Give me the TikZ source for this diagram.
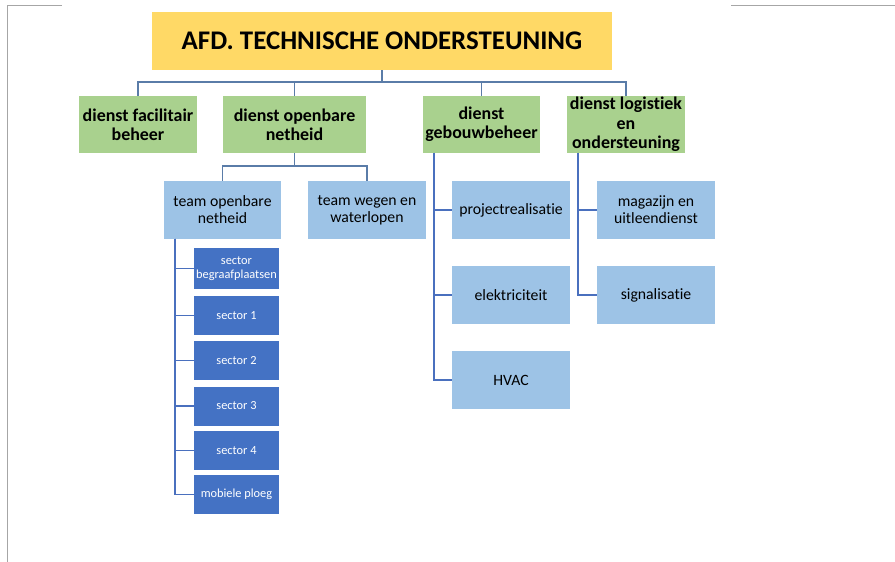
\documentclass[tikz,border=0pt]{standalone}
\usepackage{fontspec}
\setmainfont{Carlito}[Ligatures=NoCommon]

\definecolor{titlefill}{HTML}{FFD966}
\definecolor{dienstfill}{HTML}{A9D18E}
\definecolor{teamfill}{HTML}{9DC3E6}
\definecolor{sectorfill}{HTML}{4472C4}
\definecolor{barcol}{HTML}{5A7CA8}
\definecolor{stemcol}{HTML}{4A70BE}
\definecolor{framecol}{HTML}{A6A6A6}

\begin{document}
\begin{tikzpicture}[x=1bp,y=-1bp,text centered,
    titlebox/.style={fill=titlefill,minimum width=460bp,minimum height=58bp,
      font=\fontsize{27}{30}\selectfont\bfseries},
    dienstbox/.style={fill=dienstfill,minimum width=118bp,minimum height=57bp,
      align=center,inner sep=0bp,font=\fontsize{18}{19.5}\selectfont\bfseries},
    teambox/.style={fill=teamfill,minimum width=118bp,minimum height=58bp,
      align=center,inner sep=1bp,font=\fontsize{15.8}{17}\selectfont},
    sectorbox/.style={fill=sectorfill,text=white,minimum width=85bp,minimum height=39bp,
      align=center,inner sep=1bp,font=\fontsize{12.4}{14.5}\selectfont},
    orgline/.style={barcol,line width=1.4bp},
    stemline/.style={stemcol,line width=1.4bp}]
  \useasboundingbox (0,0) rectangle (895,562);

  % page edges
  \draw[framecol,thin] (62,5) -- (7,5) -- (7,562);
  \draw[framecol,thin] (731,5) -- (895,5);

  \node[titlebox] (TOP) at (382,41) {AFD. TECHNISCHE ONDERSTEUNING};

  \node[dienstbox] (FAC) at (138,124.5) {dienst facilitair\\beheer};
  \node[dienstbox,minimum width=143bp] (OPN) at (294.5,124.5) {dienst openbare\\netheid};
  \node[dienstbox,minimum width=117bp] (GEB) at (481.5,124.5) {dienst\\gebouwbeheer};
  \node[dienstbox] (LOG) at (626,124.5) {dienst logistiek\\en\\ondersteuning};

  \node[teambox,minimum width=117bp] (TON) at (222.5,210) {team openbare\\netheid};
  \node[teambox] (TWW) at (367,210) {team wegen en\\waterlopen};

  \node[sectorbox,minimum height=41bp] (SBG) at (236.5,268.5) {sector\\begraafplaatsen};
  \node[sectorbox] (S1) at (236.5,315.5) {sector 1};
  \node[sectorbox] (S2) at (236.5,360.5) {sector 2};
  \node[sectorbox] (S3) at (236.5,406) {sector 3};
  \node[sectorbox] (S4) at (236.5,450.5) {sector 4};
  \node[sectorbox] (MOB) at (236.5,494.5) {mobiele ploeg};

  \node[teambox] (PRJ) at (511,210) {projectrealisatie};
  \node[teambox] (ELK) at (511,295) {elektriciteit};
  \node[teambox] (HVC) at (511,380) {HVAC};

  \node[teambox] (MAG) at (656,210) {magazijn en\\uitleendienst};
  \node[teambox] (SIG) at (656,295) {signalisatie};

  % first level
  \coordinate (BAR) at (382,82);
  \draw[orgline] (TOP.south) -- (BAR);
  \foreach \n in {FAC,OPN,GEB,LOG}
    \draw[orgline] (BAR) -| (\n.north);

  % under dienst openbare netheid
  \coordinate (OBAR) at (294.5,166);
  \draw[orgline] (OPN.south) -- (OBAR);
  \foreach \n in {TON,TWW}
    \draw[orgline] (OBAR) -| (\n.north);

  % sectors
  \coordinate (TSTEM) at (175,239);
  \foreach \n in {SBG,S1,S2,S3,S4,MOB}
    \draw[stemline] (TSTEM) |- (\n.west);

  % under dienst gebouwbeheer
  \coordinate (GSTEM) at (434,153);
  \foreach \n in {PRJ,ELK,HVC}
    \draw[stemline] (GSTEM) |- (\n.west);

  % under dienst logistiek
  \coordinate (LSTEM) at (578,153);
  \foreach \n in {MAG,SIG}
    \draw[stemline] (LSTEM) |- (\n.west);

\end{tikzpicture}
\end{document}
